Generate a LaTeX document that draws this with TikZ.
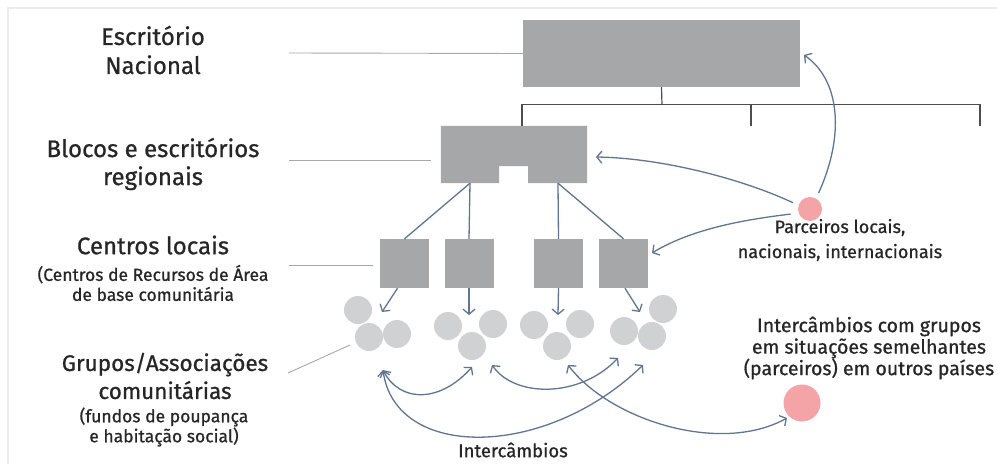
\documentclass[tikz,border=0pt]{standalone}
\usepackage{fontspec}
\setmainfont{Fira Sans}[FakeBold=0.8]
\usetikzlibrary{arrows.meta}
\definecolor{boxgray}{HTML}{A5A7A9}
\definecolor{dotgray}{HTML}{D0D1D2}
\definecolor{pinkdot}{HTML}{F4A4A7}
\definecolor{linkblue}{HTML}{5F7591}
\definecolor{treegray}{HTML}{4D4D4D}
\definecolor{guidegray}{HTML}{A8A8A8}
\definecolor{framegray}{HTML}{ECECEC}
\definecolor{inkcol}{HTML}{262626}
\begin{document}
\begin{tikzpicture}[x=1pt,y=-1pt,
  blk/.style={fill=boxgray, draw=none, inner sep=0pt},
  holder/.style={draw=none, inner sep=0pt},
  dot/.style={circle, fill=dotgray, draw=none, minimum size=28pt, inner sep=0pt},
  partner/.style={circle, fill=pinkdot, draw=none, inner sep=0pt},
  tree/.style={treegray, line width=1.2pt},
  guide/.style={guidegray, line width=0.9pt},
  link/.style={linkblue, line width=1.3pt},
  tip/.style={linkblue, line width=1.3pt, -{Straight Barb[length=5pt,width=12pt]}},
  twotip/.style={linkblue, line width=1.3pt, {Straight Barb[length=5pt,width=12pt]}-{Straight Barb[length=5pt,width=12pt]}},
  lbl/.style={text=inkcol, align=center, inner sep=0pt, font=\fontsize{24}{29}\selectfont},
  sublbl/.style={text=inkcol, align=center, inner sep=0pt, font=\fontsize{17.5}{20}\selectfont}]
\useasboundingbox (0,0) rectangle (997,466);

% faint frame
\draw[framegray, line width=1.5pt] (8,464) -- (8,8) -- (997,8);

% level boxes
\node[blk, minimum width=277pt, minimum height=67pt] (nat) at (661.5,53.5) {};
\node[holder, minimum width=146pt, minimum height=57pt] (reg) at (514,154.5) {};
\fill[boxgray] (reg.north west) -- (reg.north east) -- (reg.south east)
  -- ([xshift=14pt]reg.south) -- ([xshift=14pt,yshift=17pt]reg.south)
  -- ([xshift=-15pt,yshift=17pt]reg.south) -- ([xshift=-15pt]reg.south)
  -- (reg.south west) -- cycle;
\foreach \n/\x in {l1/404.5, l2/469, l3/558.5, l4/623.5}
  \node[blk, minimum width=49pt, minimum height=49pt] (\n) at (\x,263.5) {};

% organisation tree below the national office
\coordinate (j) at (662,105);
\coordinate (d1) at (751,126);
\coordinate (d2) at (980,126);
\draw[tree] (nat.south) -- (j);
\draw[tree] ([xshift=8pt]reg.north) -- ++(0,-21) -| (d2);
\draw[tree] (d1) -- (d1 |- j);

% regional to local offices
\draw[link] ([xshift=-44pt]reg.south) -- (l1.north);
\draw[link] ([xshift=-44pt]reg.south) -- (l2.north);
\draw[link] ([xshift=44pt]reg.south) -- (l3.north);
\draw[link] ([xshift=44pt]reg.south) -- (l4.north);

% community groups
\foreach \n/\x/\y in {c11/358/310, c12/369/337, c13/397/334,
                      c21/448/326, c22/493/324, c23/472/346,
                      c31/534/325, c32/580/324, c33/557/346,
                      c41/624/331, c42/652/336, c43/663/309}
  \node[dot] (\n) at (\x,\y) {};

% local offices to groups
\coordinate (a1) at (382,312);
\coordinate (a2) at (469,315);
\coordinate (a3) at (558,315);
\coordinate (a4) at (640,312);
\draw[tip] ([xshift=-7pt]l1.south) -- (a1);
\draw[tip] (l2.south) -- (a2);
\draw[tip] (l3.south) -- (a3);
\draw[tip] ([xshift=1.5pt]l4.south) -- (a4);

% partners
\node[partner, minimum size=24pt] (p1) at (810,209) {};
\node[partner, minimum size=37pt] (p2) at (802,403) {};

\coordinate (t1) at (804,55);
\coordinate (t2) at (596,157);
\coordinate (t3) at (652,253);
\draw[tip, shorten <=6pt] (p1.60) .. controls (845,135) and (840,80) .. (t1);
\draw[tip, shorten <=6pt] (p1.162) .. controls (740,178) and (660,158) .. (t2);
\draw[tip, shorten <=8pt] (p1.200) .. controls (740,220) and (690,230) .. (t3);

% exchanges between groups
\coordinate (e1) at (383,370);
\coordinate (e2) at (472,367);
\coordinate (e3) at (492,365);
\coordinate (e4) at (618,358);
\coordinate (e5) at (643,365);
\coordinate (e6) at (568,365);
\coordinate (e7) at (787,418);
\draw[twotip] (e1) .. controls (400,403) and (440,403) .. (e2);
\draw[twotip] (e3) .. controls (515,398) and (580,398) .. (e4);
\draw[twotip] (e1) .. controls (395,460) and (545,460) .. (e5);
\draw[twotip] (e6) .. controls (610,420) and (720,455) .. (e7);

% level guides
\coordinate (g1) at (289,53);
\coordinate (g2a) at (289,160);
\coordinate (g2b) at (431,160);
\coordinate (g3a) at (289,265);
\coordinate (g3b) at (373,265);
\coordinate (g4a) at (288,373);
\coordinate (g4b) at (350,345);
\draw[guide] (g1) -- (nat.west);
\draw[guide] (g2a) -- (g2b);
\draw[guide] (g3a) -- (g3b);
\draw[guide] (g4a) -- (g4b);

% labels
\node[lbl] (tnat) at (153,50) {Escritório\\Nacional};
\node[lbl, font=\fontsize{24}{28}\selectfont] (treg) at (153,164) {Blocos e escritórios\\regionais};
\node[lbl] (tloc) at (153,245) {Centros locais};
\node[sublbl] (tlocs) at (153,283) {(Centros de Recursos de Área\\de base comunitária};
\node[lbl, font=\fontsize{22.5}{28}\selectfont] (tgrp) at (165,376) {Grupos/Associações\\comunitárias};
\node[sublbl] (tgrps) at (164,427) {(fundos de poupança\\e habitação social)};
\node[sublbl, font=\fontsize{18}{25}\selectfont] (tpar) at (840,240) {Parceiros locais,\\nacionais, internacionais};
\node[sublbl, font=\fontsize{19.5}{21.5}\selectfont] (tint) at (869,348) {Intercâmbios com grupos\\em situações semelhantes\\(parceiros) em outros países};
\node[sublbl, font=\fontsize{18.5}{20}\selectfont] (tex) at (513,450) {Intercâmbios};
\end{tikzpicture}
\end{document}
